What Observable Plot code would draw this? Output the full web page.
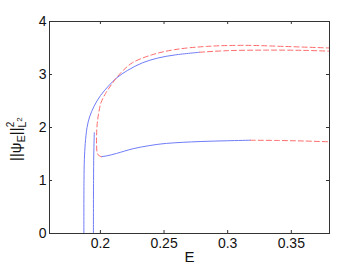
<!DOCTYPE html>
<html>
<head>
<meta charset="utf-8">
<script src="https://cdn.jsdelivr.net/npm/d3@7"></script>
<script src="https://cdn.jsdelivr.net/npm/@observablehq/plot@0.6"></script>
<style>
  html, body { margin: 0; padding: 0; background: #fff; }
  #chart { width: 363px; height: 273px; }
</style>
</head>
<body>
<div id="chart"></div>
<script>
// Tick values
const xTicks = [0.2, 0.25, 0.3, 0.35];
const yTicks = [0, 1, 2, 3, 4];

// Stable (blue, solid) branches: [E, norm]
const blueUpperE = [0.1870, 0.1871, 0.1874, 0.1881, 0.1895, 0.1915, 0.1950, 0.2000, 0.2070, 0.2130, 0.2215, 0.2330, 0.2450, 0.2589, 0.2780];
const blueUpperV = [0.00, 1.00, 1.40, 1.70, 2.00, 2.20, 2.40, 2.60, 2.80, 2.94, 3.08, 3.22, 3.31, 3.37, 3.42];

const blueVertE = [0.1945, 0.1946, 0.1948, 0.1952];
const blueVertV = [0.00, 1.00, 1.50, 1.90];

const blueLowerE = [0.2008, 0.2050, 0.2126, 0.2257, 0.2389, 0.2520, 0.2783, 0.3000, 0.3178];
const blueLowerV = [1.45, 1.465, 1.51, 1.60, 1.66, 1.70, 1.735, 1.75, 1.76];

// Unstable (red, dashed) branches
const redUpperE = [0.2008, 0.1990, 0.1975, 0.1970, 0.1970, 0.1974, 0.1985, 0.2005, 0.2040, 0.2090, 0.2130, 0.2180, 0.2250, 0.2403, 0.2586, 0.2835, 0.3123, 0.3437, 0.3800];
const redUpperV = [1.45, 1.465, 1.52, 1.65, 1.85, 2.05, 2.25, 2.47, 2.64, 2.82, 2.95, 3.08, 3.22, 3.37, 3.47, 3.53, 3.55, 3.53, 3.50];

const redMidE = [0.2780, 0.3000, 0.3300, 0.3600, 0.3800];
const redMidV = [3.42, 3.45, 3.46, 3.455, 3.44];

const redLowerE = [0.3178, 0.3400, 0.3600, 0.3800];
const redLowerV = [1.76, 1.755, 1.745, 1.73];

const toRows = (E, V) => E.map((e, i) => ({E: e, v: V[i]}));

const blue = "#6f7cf7";
const red = "#ff6b6b";

const xDomain = [0.16, 0.38];
const yDomain = [0, 4];
const tx = 3 / 1266;   // inward tick length in x units
const ty = 3 / 53.1;   // inward tick length in y units

const svg = Plot.plot({
  width: 363,
  height: 273,
  marginLeft: 49,
  marginRight: 34,
  marginTop: 21,
  marginBottom: 40,
  style: {fontFamily: "'Liberation Sans', Arial, sans-serif", fontSize: "14px", color: "#111", background: "#fff"},
  x: {domain: xDomain, ticks: xTicks, tickFormat: d => String(d), label: null},
  y: {domain: yDomain, ticks: yTicks, tickFormat: d => String(d), label: null},
  marks: [
    Plot.axisX({ticks: xTicks, tickSize: 0, tickPadding: 5, tickFormat: d => String(d), label: null, fontSize: 14}),
    Plot.axisY({ticks: yTicks, tickSize: 0, tickPadding: 3, tickFormat: d => String(d), label: null, fontSize: 14}),
    // inward ticks on all four sides
    Plot.ruleX(xTicks, {x: d => d, y1: yDomain[0], y2: yDomain[0] + ty, stroke: "#333"}),
    Plot.ruleX(xTicks, {x: d => d, y1: yDomain[1], y2: yDomain[1] - ty, stroke: "#333"}),
    Plot.ruleY(yTicks, {y: d => d, x1: xDomain[0], x2: xDomain[0] + tx, stroke: "#333"}),
    Plot.ruleY(yTicks, {y: d => d, x1: xDomain[1], x2: xDomain[1] - tx, stroke: "#333"}),
    Plot.line(toRows(blueUpperE, blueUpperV), {x: "E", y: "v", stroke: blue, strokeWidth: 1, curve: "catmull-rom"}),
    Plot.line(toRows(blueVertE, blueVertV), {x: "E", y: "v", stroke: blue, strokeWidth: 1, curve: "catmull-rom"}),
    Plot.line(toRows(blueLowerE, blueLowerV), {x: "E", y: "v", stroke: blue, strokeWidth: 1, curve: "catmull-rom"}),
    Plot.line(toRows(redUpperE, redUpperV), {x: "E", y: "v", stroke: red, strokeWidth: 1, strokeDasharray: "5,3", curve: "catmull-rom"}),
    Plot.line(toRows(redMidE, redMidV), {x: "E", y: "v", stroke: red, strokeWidth: 1, strokeDasharray: "5,3", curve: "catmull-rom"}),
    Plot.line(toRows(redLowerE, redLowerV), {x: "E", y: "v", stroke: red, strokeWidth: 1, strokeDasharray: "5,3", curve: "catmull-rom"}),
    Plot.frame({stroke: "#333"}),
    Plot.text(["E"], {frameAnchor: "bottom", dy: 28, text: d => d, fontSize: 15, fill: "#111"})
  ]
});

// y-axis label with sub/superscripts
const lab = d3.select(svg).append("text")
  .attr("transform", "translate(21,161) rotate(-90)")
  .attr("text-anchor", "start")
  .attr("fill", "#111")
  .style("font-family", "'Liberation Sans', Arial, sans-serif")
  .style("font-size", "15px");
lab.append("tspan").text("||\u03C8");
lab.append("tspan").attr("dy", 4).style("font-size", "11px").text("E");
lab.append("tspan").attr("dy", -4).text("||");
lab.append("tspan").attr("dy", -7).style("font-size", "10px").text("2");
lab.append("tspan").attr("dx", -6).attr("dy", 12).style("font-size", "11px").text("L");
lab.append("tspan").attr("dy", -4).style("font-size", "8px").text("2");

document.getElementById("chart").appendChild(svg);
</script>
</body>
</html>
